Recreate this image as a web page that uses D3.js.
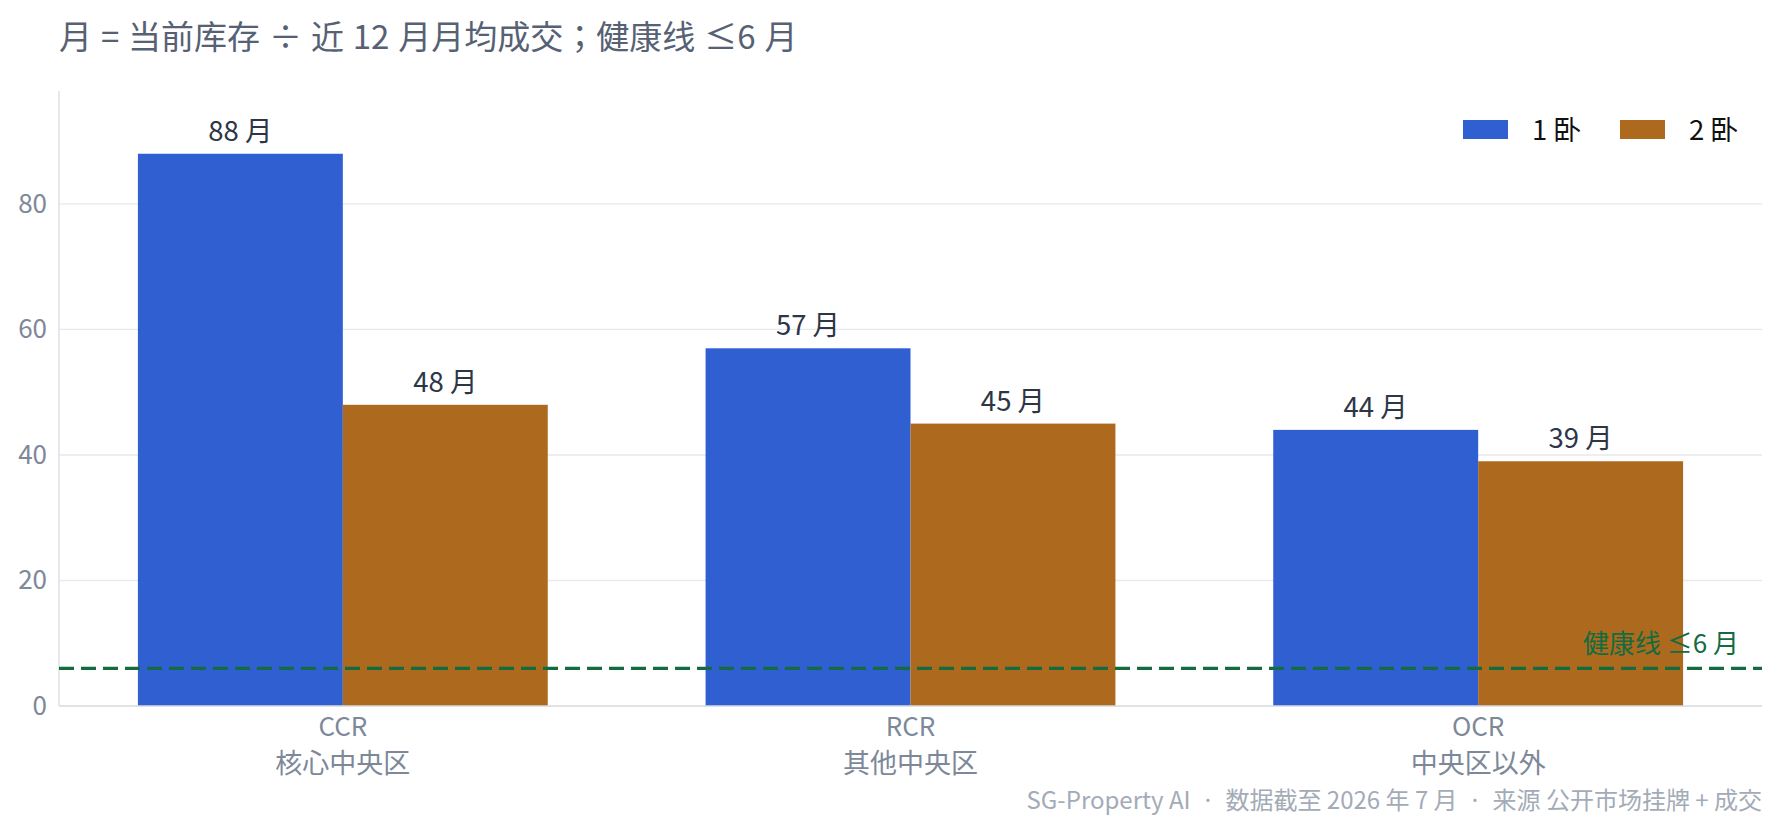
<!DOCTYPE html>
<html><head><meta charset="utf-8">
<script src="https://cdn.jsdelivr.net/npm/d3@7"></script>
<style>body{margin:0;background:#fff;}svg{display:block;font-family:"Noto Sans CJK JP","Noto Sans",sans-serif;}</style>
</head><body>
<svg id="c" width="1785" height="825"></svg>
<script>
const categories = ["CCR", "RCR", "OCR"];
const categoryNames = ["核心中央区", "其他中央区", "中央区以外"];
const seriesNames = ["1 卧", "2 卧"];
const oneBed = [88, 57, 44];
const twoBed = [48, 45, 39];
const yTicks = [0, 20, 40, 60, 80];
const healthLine = 6;
const titleText = "月 = 当前库存 ÷ 近 12 月月均成交；健康线 ≤6 月";
const healthText = "健康线 ≤6 月";
const footerText = "SG-Property AI  ·  数据截至 2026 年 7 月  ·  来源 公开市场挂牌 + 成交";
const colors = ["#2f5fd0", "#ad6a1f"];

const svg = d3.select("#c");
const m = {l: 59, r: 1762, t: 91, b: 706};
const x0 = d3.scaleBand().domain(categories).range([m.l, m.r]).paddingInner(0.278).paddingOuter(0.139);
const x1 = d3.scaleBand().domain([0, 1]).range([0, x0.bandwidth()]);
const y = d3.scaleLinear().domain([0, 98]).range([m.b, m.t]);

// title
svg.append("text").attr("x", 59).attr("y", 49).attr("font-size", 33).attr("fill", "#566174")
  .attr("word-spacing", 1.5).style("white-space", "pre").text(titleText);

// grid
svg.append("g").selectAll("line").data(yTicks.filter(d => d > 0)).join("line")
  .attr("x1", m.l).attr("x2", m.r).attr("y1", d => y(d)).attr("y2", d => y(d))
  .attr("stroke", "#e6e9ee").attr("stroke-width", 1.3);

// y axis
const yAxis = svg.append("g").attr("transform", `translate(${m.l},0)`)
  .call(d3.axisLeft(y).tickValues(yTicks).tickSize(0).tickPadding(12));
yAxis.select(".domain").remove();
yAxis.selectAll("text").attr("font-size", 26).attr("fill", "#7d8899").attr("font-family", "'Noto Sans CJK JP'");
svg.append("line").attr("x1", m.l).attr("x2", m.l).attr("y1", m.t).attr("y2", m.b).attr("stroke", "#dde1e7").attr("stroke-width", 1.5);

// bars
const rows = categories.map((c, i) => ({c, vals: [oneBed[i], twoBed[i]]}));
const g = svg.append("g").selectAll("g").data(rows).join("g").attr("transform", d => `translate(${x0(d.c)},0)`);
g.selectAll("rect").data(d => d.vals.map((v, k) => ({v, k}))).join("rect")
  .attr("x", d => x1(d.k)).attr("width", x1.bandwidth())
  .attr("y", d => y(d.v)).attr("height", d => y(0) - y(d.v)).attr("fill", d => colors[d.k]);
g.selectAll("text.v").data(d => d.vals.map((v, k) => ({v, k}))).join("text").attr("class", "v")
  .attr("x", d => x1(d.k) + x1.bandwidth() / 2).attr("y", d => y(d.v) - 13)
  .attr("text-anchor", "middle").attr("font-size", 27.5).attr("fill", "#2d3646").text(d => d.v + " 月");

// x axis line
svg.append("line").attr("x1", m.l).attr("x2", m.r).attr("y1", m.b).attr("y2", m.b).attr("stroke", "#d5dae1").attr("stroke-width", 1.5);

// x labels
const xg = svg.append("g");
xg.selectAll("text.c").data(categories).join("text").attr("class", "c")
  .attr("x", d => x0(d) + x0.bandwidth() / 2).attr("y", 736)
  .attr("text-anchor", "middle").attr("font-size", 26).attr("fill", "#7d8899").text(d => d);
xg.selectAll("text.n").data(categoryNames).join("text").attr("class", "n")
  .attr("x", (d, i) => x0(categories[i]) + x0.bandwidth() / 2).attr("y", 773)
  .attr("text-anchor", "middle").attr("font-size", 27).attr("fill", "#7d8899").text(d => d);

// health line
svg.append("line").attr("x1", m.l).attr("x2", m.r).attr("y1", y(healthLine)).attr("y2", y(healthLine))
  .attr("stroke", "#136b3f").attr("stroke-width", 3.2).attr("stroke-dasharray", "15,7");
svg.append("text").attr("x", 1739).attr("y", y(healthLine) - 15).attr("text-anchor", "end")
  .attr("font-size", 26).attr("fill", "#136b3f").style("white-space", "pre").text(healthText);

// legend
const lg = svg.append("g").selectAll("g").data(seriesNames).join("g")
  .attr("transform", (d, i) => `translate(${[1463, 1620][i]},120)`);
lg.append("rect").attr("width", 45).attr("height", 19).attr("fill", (d, i) => colors[i]);
lg.append("text").attr("x", 69).attr("y", 20).attr("font-size", 27.5).attr("fill", "#111").text(d => d);

// footer
svg.append("text").attr("x", 1762).attr("y", 809).attr("text-anchor", "end").attr("font-size", 24)
  .attr("fill", "#a3abb7").style("white-space", "pre").text(footerText);
</script>
</body></html>
